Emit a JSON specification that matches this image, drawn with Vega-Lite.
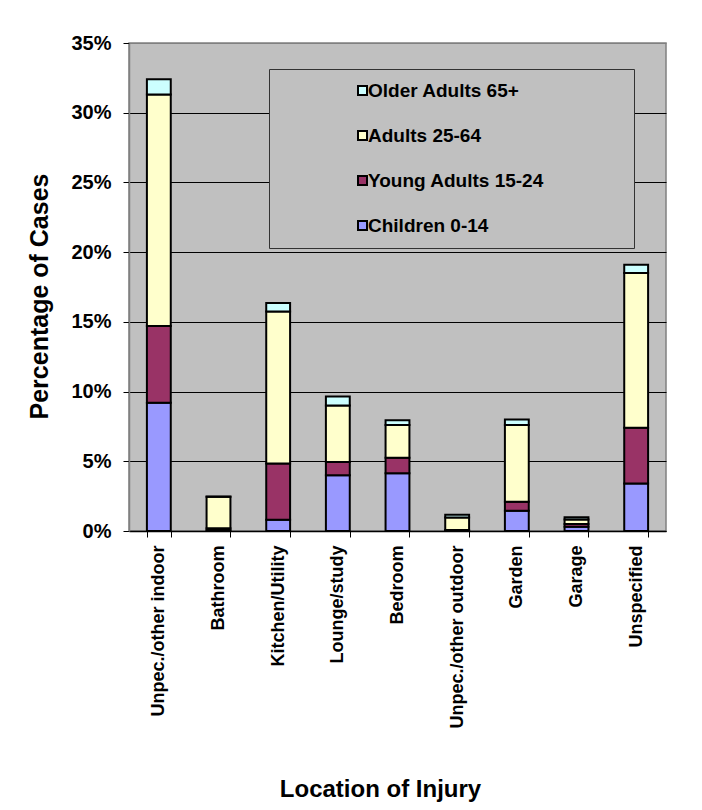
{
  "$schema": "https://vega.github.io/schema/vega-lite/v6.json",
  "width": 537,
  "height": 488,
  "autosize": {"type": "none"},
  "padding": {"left": 129, "top": 43, "right": 36, "bottom": 279},
  "background": "white",
  "config": {
    "font": "Liberation Sans",
    "view": {"fill": "#C0C0C0", "stroke": "#808080", "strokeWidth": 1.5}
  },
  "data": {
    "values": [
      {"location": "Unpec./other indoor", "group": "Children 0-14", "rank": 1, "pct": 9.2},
      {"location": "Unpec./other indoor", "group": "Young Adults 15-24", "rank": 2, "pct": 5.5},
      {"location": "Unpec./other indoor", "group": "Adults 25-64", "rank": 3, "pct": 16.6},
      {"location": "Unpec./other indoor", "group": "Older Adults 65+", "rank": 4, "pct": 1.1},
      {"location": "Bathroom", "group": "Children 0-14", "rank": 1, "pct": 0.05},
      {"location": "Bathroom", "group": "Young Adults 15-24", "rank": 2, "pct": 0.15},
      {"location": "Bathroom", "group": "Adults 25-64", "rank": 3, "pct": 2.25},
      {"location": "Bathroom", "group": "Older Adults 65+", "rank": 4, "pct": 0.02},
      {"location": "Kitchen/Utility", "group": "Children 0-14", "rank": 1, "pct": 0.8},
      {"location": "Kitchen/Utility", "group": "Young Adults 15-24", "rank": 2, "pct": 4.05},
      {"location": "Kitchen/Utility", "group": "Adults 25-64", "rank": 3, "pct": 10.9},
      {"location": "Kitchen/Utility", "group": "Older Adults 65+", "rank": 4, "pct": 0.6},
      {"location": "Lounge/study", "group": "Children 0-14", "rank": 1, "pct": 4.0},
      {"location": "Lounge/study", "group": "Young Adults 15-24", "rank": 2, "pct": 0.95},
      {"location": "Lounge/study", "group": "Adults 25-64", "rank": 3, "pct": 4.05},
      {"location": "Lounge/study", "group": "Older Adults 65+", "rank": 4, "pct": 0.65},
      {"location": "Bedroom", "group": "Children 0-14", "rank": 1, "pct": 4.15},
      {"location": "Bedroom", "group": "Young Adults 15-24", "rank": 2, "pct": 1.1},
      {"location": "Bedroom", "group": "Adults 25-64", "rank": 3, "pct": 2.35},
      {"location": "Bedroom", "group": "Older Adults 65+", "rank": 4, "pct": 0.35},
      {"location": "Unpec./other outdoor", "group": "Children 0-14", "rank": 1, "pct": 0.02},
      {"location": "Unpec./other outdoor", "group": "Young Adults 15-24", "rank": 2, "pct": 0.05},
      {"location": "Unpec./other outdoor", "group": "Adults 25-64", "rank": 3, "pct": 0.9},
      {"location": "Unpec./other outdoor", "group": "Older Adults 65+", "rank": 4, "pct": 0.2},
      {"location": "Garden", "group": "Children 0-14", "rank": 1, "pct": 1.45},
      {"location": "Garden", "group": "Young Adults 15-24", "rank": 2, "pct": 0.65},
      {"location": "Garden", "group": "Adults 25-64", "rank": 3, "pct": 5.5},
      {"location": "Garden", "group": "Older Adults 65+", "rank": 4, "pct": 0.4},
      {"location": "Garage", "group": "Children 0-14", "rank": 1, "pct": 0.3},
      {"location": "Garage", "group": "Young Adults 15-24", "rank": 2, "pct": 0.2},
      {"location": "Garage", "group": "Adults 25-64", "rank": 3, "pct": 0.33},
      {"location": "Garage", "group": "Older Adults 65+", "rank": 4, "pct": 0.15},
      {"location": "Unspecified", "group": "Children 0-14", "rank": 1, "pct": 3.4},
      {"location": "Unspecified", "group": "Young Adults 15-24", "rank": 2, "pct": 4.0},
      {"location": "Unspecified", "group": "Adults 25-64", "rank": 3, "pct": 11.1},
      {"location": "Unspecified", "group": "Older Adults 65+", "rank": 4, "pct": 0.6}
    ]
  },
  "mark": {"type": "bar", "stroke": "black", "strokeWidth": 2},
  "encoding": {
    "x": {
      "field": "location",
      "type": "nominal",
      "sort": null,
      "scale": {"paddingInner": 0.6, "paddingOuter": 0.3},
      "axis": {
        "title": "Location of Injury",
        "titleFontSize": 24,
        "titleFontWeight": "bold",
        "titleColor": "black",
        "titleX": 251,
        "titleY": 265,
        "titleBaseline": "alphabetic",
        "labelAngle": 270,
        "labelFontSize": 18,
        "labelFontWeight": "bold",
        "labelColor": "black",
        "labelPadding": 8,
        "labelLimit": 400,
        "tickBand": "extent",
        "tickSize": 6,
        "tickColor": "black",
        "domainColor": "black",
        "domainWidth": 1.5
      }
    },
    "y": {
      "field": "pct",
      "type": "quantitative",
      "stack": "zero",
      "scale": {"domain": [0, 35], "nice": false},
      "axis": {
        "title": "Percentage of Cases",
        "titleFontSize": 25,
        "titleFontWeight": "bold",
        "titleColor": "black",
        "titleAngle": 270,
        "titleAlign": "center",
        "titleBaseline": "alphabetic",
        "titleX": -82,
        "titleY": 253,
        "values": [0, 5, 10, 15, 20, 25, 30, 35],
        "labelExpr": "datum.value + '%'",
        "labelFontSize": 20,
        "labelFontWeight": "bold",
        "labelColor": "black",
        "labelPadding": 12,
        "tickSize": 6,
        "tickColor": "black",
        "domainColor": "#808080",
        "domainWidth": 1.5,
        "grid": true,
        "gridColor": {"condition": {"test": "datum.value >= 35", "value": "#808080"}, "value": "black"},
        "gridWidth": 1
      }
    },
    "color": {
      "field": "group",
      "type": "nominal",
      "scale": {
        "domain": ["Older Adults 65+", "Adults 25-64", "Young Adults 15-24", "Children 0-14"],
        "range": ["#CCFFFF", "#FFFFCC", "#993366", "#9999FF"]
      },
      "legend": {
        "title": " ",
        "titleOrient": "right",
        "titlePadding": 78,
        "titleFontSize": 19,
        "orient": "none",
        "legendX": 140,
        "legendY": 26,
        "padding": 12,
        "fillColor": "#C0C0C0",
        "strokeColor": "#333333",
        "symbolType": "square",
        "symbolSize": 81,
        "symbolStrokeColor": "black",
        "symbolStrokeWidth": 2,
        "symbolOpacity": 1,
        "symbolOffset": 72,
        "labelOffset": -4,
        "labelFontSize": 19,
        "labelFontWeight": "bold",
        "labelColor": "black",
        "labelLimit": 400,
        "rowPadding": 25
      }
    },
    "order": {"field": "rank", "type": "quantitative"}
  }
}
